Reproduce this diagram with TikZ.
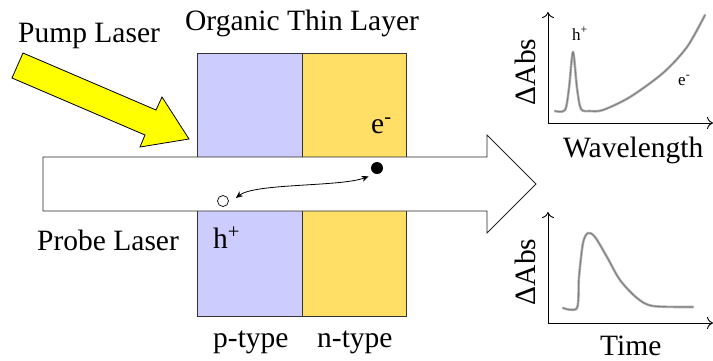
\documentclass[tikz,border=0pt]{standalone}
\usepackage{fontspec}
\setmainfont{Liberation Serif}
\newfontfamily\tnr{Liberation Serif}
\usetikzlibrary{arrows.meta}
\definecolor{ptype}{HTML}{CCCCFF}
\definecolor{ntype}{HTML}{FFDF66}
\definecolor{pump}{HTML}{FFFF00}
\definecolor{edge}{HTML}{333333}
\definecolor{curvegray}{HTML}{808080}
\tikzset{
  lbl/.style={anchor=base west, inner sep=0pt, font=\tnr\fontsize{29.5}{31}\selectfont},
  smalllbl/.style={anchor=base west, inner sep=0pt, font=\tnr\fontsize{17}{19}\selectfont},
  vlbl/.style={rotate=90, anchor=base, inner sep=0pt, font=\tnr\fontsize{29.5}{31}\selectfont},
  axis/.style={line width=0.9pt, -{To[length=6pt,width=12pt]}},
  spec/.style={line width=2.6pt, curvegray!55, line cap=round, line join=round},
  speccore/.style={line width=1.1pt, curvegray, line cap=round, line join=round},
  layer/.style={draw=edge, line width=0.9pt},
}
\begin{document}
\begin{tikzpicture}[x=1pt,y=-1pt]
\useasboundingbox (0,0) rectangle (713,360);
% layers
\fill[ptype] (197,53) rectangle (302,316);
\fill[ntype] (302,53) rectangle (406,316);
\draw[layer] (197,316) -- (197,53) -- (406,53) -- (406,316) -- cycle;
\draw[layer] (302,53) -- (302,316);
% probe arrow
\draw[fill=white, draw=black!85, line width=0.9pt]
  (43,157) -- (487,157) -- (487,135) -- (536,184) -- (487,233) -- (487,211) -- (43,211) -- cycle;
% pump arrow
\draw[fill=pump, draw=black, line width=0.8pt, line join=miter]
  (23,53) -- (156,110) -- (162,97) -- (189,139) -- (140,147) -- (145,135) -- (12,78) -- cycle;
% texts
\node[lbl] (pump) at (18,42.5) {Pump Laser};
\node[lbl] (otl) at (185,30) {Organic Thin Layer};
\node[lbl] (probe) at (37,250) {Probe Laser};
\node[lbl] (ptxt) at (213,347) {p-type};
\node[lbl] (ntxt) at (317,347) {n-type};
\node[lbl] (elab) at (371,133) {e\textsuperscript{-}};
\node[lbl] (hlab) at (213,248) {h\textsuperscript{+}};
% carriers
\node[circle, fill=black, inner sep=0pt, minimum size=12pt] (el) at (377,168) {};
\node[circle, draw=black, fill=white, line width=0.7pt, inner sep=0pt, minimum size=11pt] (ho) at (223,201) {};
\draw[line width=0.8pt, {Stealth[length=7pt,width=6pt]}-{Stealth[length=7pt,width=6pt]}]
  ([shift={(7,-3)}]ho.east) .. controls (255,183) and (340,187) .. ([shift={(-4,4)}]el.south west);
% top graph
\coordinate (o1) at (548,123);
\coordinate (y1) at (548,12);
\coordinate (x1) at (713,123);
\draw[axis] (o1) -- (y1);
\draw[axis] (o1) -- (x1);
\foreach \s in {spec,speccore}
  \draw[\s] plot[smooth, tension=0.5] coordinates {(555,111) (565,110) (569,88) (573,52) (577,88) (581,109) (590,111) (603,110) (630,97) (663,73) (687,47) (705,15)};
\node[smalllbl] (hsp) at (572,40) {h\textsuperscript{+}};
\node[smalllbl] (esp) at (678,85) {e\textsuperscript{-}};
\node[lbl] (wl) at (563,157) {Wavelength};
\node[vlbl] (dabs1) at (535,72) {ΔAbs};
% bottom graph
\coordinate (o2) at (548,323);
\coordinate (y2) at (548,212);
\coordinate (x2) at (713,323);
\draw[axis] (o2) -- (y2);
\draw[axis] (o2) -- (x2);
\foreach \s in {spec,speccore}
  \draw[\s] plot[smooth, tension=0.5] coordinates {(563,308) (577,308) (579,277) (583,243) (588,233) (595,237) (607,257) (620,280) (637,298) (653,306) (693,307)};
\node[lbl] (tm) at (600,355) {Time};
\node[vlbl] (dabs2) at (535,272) {ΔAbs};
\end{tikzpicture}
\end{document}
